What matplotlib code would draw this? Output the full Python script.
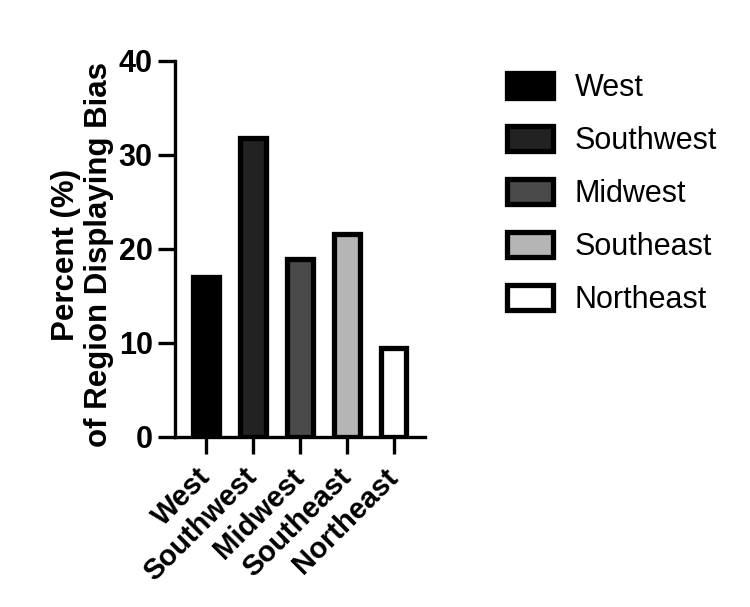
import matplotlib
matplotlib.use('Agg')
import matplotlib.pyplot as plt

regions = ["West", "Southwest", "Midwest", "Southeast", "Northeast"]
percent = [17.0, 31.8, 18.9, 21.6, 9.4]
colors = ["#000000", "#222222", "#4a4a4a", "#b5b5b5", "#ffffff"]

plt.rcParams['font.family'] = ['Liberation Sans', 'DejaVu Sans']

fig = plt.figure(figsize=(7.5, 6.07), dpi=100)
ax = fig.add_axes([0.2333, 0.2806, 0.3334, 0.6194])

bars = ax.bar(range(len(regions)), percent, width=0.55, color=colors,
              edgecolor="black", linewidth=3.8, label=regions)

ax.set_ylim(0, 40)
ax.set_xlim(-0.66, 4.67)
ax.set_yticks([0, 10, 20, 30, 40])
ax.set_xticks(range(len(regions)))
ax.set_xticklabels(regions, rotation=45, ha='right', va='center',
                   rotation_mode='anchor', fontsize=21, fontweight='bold')
for lbl in ax.get_yticklabels():
    lbl.set_fontsize(22)
    lbl.set_fontweight('bold')

for side in ['top', 'right']:
    ax.spines[side].set_visible(False)
for side in ['left', 'bottom']:
    ax.spines[side].set_linewidth(2.4)
ax.tick_params(axis='both', length=12, width=2.4, pad=4)
ax.tick_params(axis='x', pad=14)

ax.set_ylabel("Percent (%)\nof Region Displaying Bias", fontsize=22.5,
              fontweight='bold', linespacing=1.15)
ax.yaxis.set_label_coords(-0.244, 0.484)

leg = fig.legend(handles=list(bars), labels=regions, loc='upper left',
                 bbox_to_anchor=(0.676, 0.879), frameon=False, fontsize=22,
                 handlelength=1.5, handleheight=0.88, labelspacing=0.75,
                 handletextpad=0.72, borderpad=0, borderaxespad=0)

plt.savefig("out.png", dpi=100, facecolor='white')
